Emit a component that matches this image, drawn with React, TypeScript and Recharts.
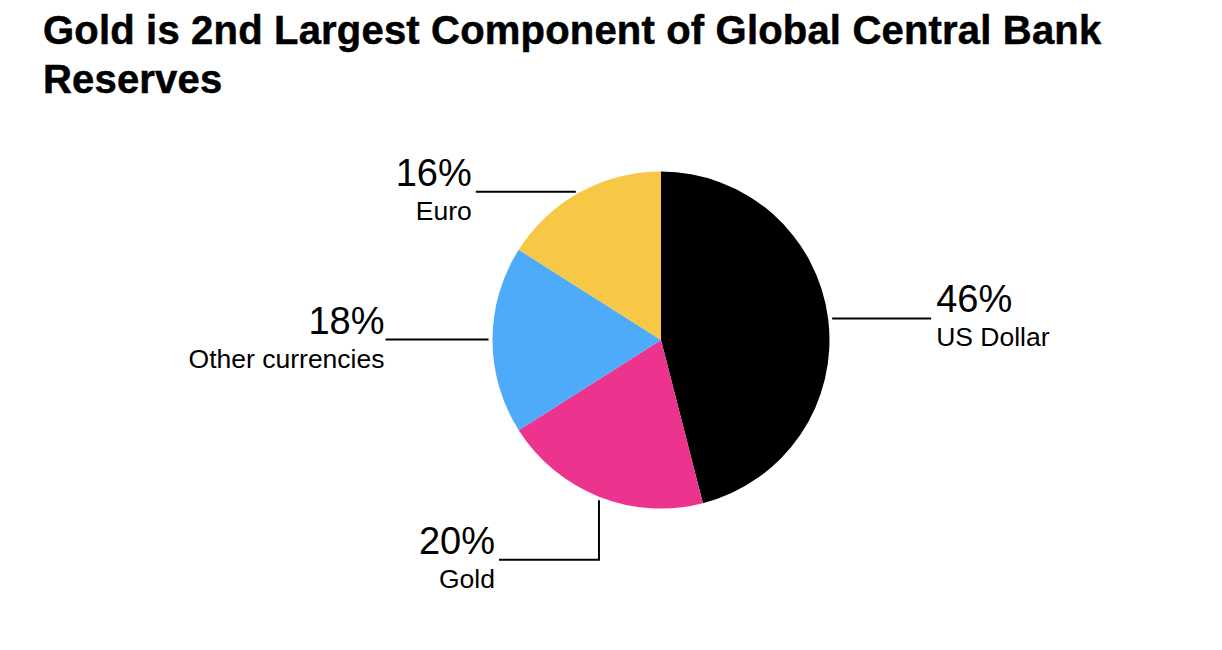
import { PieChart, Pie, Cell } from 'recharts';

const categories = ['US Dollar', 'Gold', 'Other currencies', 'Euro'];
const shares = [46, 20, 18, 16];
const colors = ['#000000', '#EC338D', '#4EABF9', '#F7C746'];

const chartData = categories.map((name, i) => ({ name, value: shares[i] }));

const FONT = '"Liberation Sans", Arial, sans-serif';
const RAD = Math.PI / 180;

// Leader line out of the slice middle, value on top and name below
function SliceLabel(props: any) {
  const { cx, cy, midAngle, outerRadius, name, value } = props;
  const ax = cx + outerRadius * Math.cos(-midAngle * RAD);
  const ay = cy + outerRadius * Math.sin(-midAngle * RAD) - 0.5;

  // Gold sits at the bottom, so its leader drops first and then runs left
  if (name === 'Gold') {
    const lineY = ay + 63.5;
    const endX = ax - 100;
    return (
      <g>
        <path d={`M${ax},${ay + 4} V${lineY} H${endX}`} fill="none" stroke="#000" strokeWidth={2} />
        <text x={endX - 4} y={lineY - 6} textAnchor="end" fontFamily={FONT} fontSize={38} fill="#000">{value}%</text>
        <text x={endX - 4} y={lineY + 28} textAnchor="end" fontFamily={FONT} fontSize={26.5} fill="#000">{name}</text>
      </g>
    );
  }

  const right = ax > cx;
  const startX = right ? ax + 4 : ax - 4;
  const leader = right ? 99 : name === 'Euro' ? 100 : 103;
  const gap = right ? 5 : name === 'Euro' ? 4 : 1;
  const endX = right ? startX + leader : startX - leader;
  const textX = right ? endX + gap : endX - gap;
  const anchor = right ? 'start' : 'end';
  return (
    <g>
      <line x1={startX} y1={ay} x2={endX} y2={ay} stroke="#000" strokeWidth={2} />
      <text x={textX} y={ay - 6} textAnchor={anchor} fontFamily={FONT} fontSize={38} fill="#000">{value}%</text>
      <text x={textX} y={ay + 28} textAnchor={anchor} fontFamily={FONT} fontSize={26.5} fill="#000">{name}</text>
    </g>
  );
}

export default function App() {
  return (
    <div style={{ position: 'absolute', left: 0, top: 0, width: 1222, height: 650, background: '#fff' }}>
      <div
        style={{
          position: 'absolute',
          left: 43,
          top: 6,
          width: 1120,
          fontFamily: FONT,
          fontWeight: 700,
          fontSize: 40,
          lineHeight: '49px',
          letterSpacing: 0.18,
          WebkitTextStroke: '0.5px #000',
          color: '#000',
        }}
      >
        Gold is 2nd Largest Component of Global Central Bank Reserves
      </div>
      <PieChart width={1222} height={650} margin={{ top: 0, right: 0, bottom: 0, left: 0 }} style={{ position: 'absolute', left: 0, top: 0 }}>
        <Pie
          data={chartData}
          dataKey="value"
          nameKey="name"
          cx={661}
          cy={340}
          innerRadius={0}
          outerRadius={168.5}
          startAngle={90}
          endAngle={-270}
          stroke="none"
          label={SliceLabel}
          labelLine={false}
          isAnimationActive={false}
        >
          {chartData.map((d, i) => (
            <Cell key={d.name} fill={colors[i]} />
          ))}
        </Pie>
      </PieChart>
    </div>
  );
}
